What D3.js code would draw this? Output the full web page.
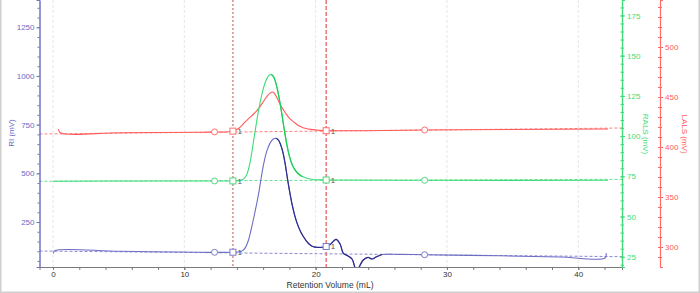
<!DOCTYPE html>
<html>
<head>
<meta charset="utf-8">
<script src="https://cdn.jsdelivr.net/npm/d3@7"></script>
<style>
  html, body { margin: 0; padding: 0; background: #fff; }
  svg { display: block; font-family: "Liberation Sans", Arial, sans-serif; }
</style>
</head>
<body>
<svg id="chart" width="700" height="293"></svg>
<script>
// ---------- DATA ----------
const xTicks = [0, 10, 20, 30, 40];
const riTicks = [250, 500, 750, 1000, 1250];
const ralsTicks = [25, 50, 75, 100, 125, 150, 175];
const lalsTicks = [300, 350, 400, 450, 500];

// RI trace [volume mL, mV]
const riPoints = [
  [0.04, 88], [0.11, 102], [5.1, 99.6], [11.2, 94.5], [13.63, 94.5], [14.24, 97.5],
  [14.43, 103], [14.62, 116], [14.85, 150], [15.08, 209], [15.36, 295], [15.64, 389],
  [15.86, 480], [16.07, 558], [16.3, 618], [16.53, 655], [16.75, 675], [16.96, 680],
  [17.12, 674], [17.29, 655], [17.48, 615], [17.67, 552], [17.86, 470], [18.05, 395],
  [18.24, 330], [18.43, 278], [18.62, 238], [18.81, 207], [19.04, 178], [19.27, 155],
  [19.5, 137], [19.73, 126], [19.96, 121], [20.18, 119.5], [20.72, 121.7], [21.1, 134.5],
  [21.55, 161], [21.86, 137], [22.11, 89], [22.47, 75.5], [22.77, 60], [23.0, 14],
  [23.15, -15], [23.3, 16], [23.63, 55], [23.99, 68], [24.3, 60], [24.6, 70],
  [25.06, 83], [26.43, 84], [28.31, 82], [34.04, 76.5], [38.6, 70], [42.04, 65], [42.12, 91]
];
// RALS trace [volume mL, mV]
const ralsPoints = [
  [0, 71.9], [7.39, 72.1], [13.63, 72.1], [14.2, 72.3], [14.4, 72.8], [14.6, 74.0],
  [14.8, 77.0], [15.0, 83.5], [15.2, 93], [15.4, 103.5], [15.6, 113.5], [15.8, 122],
  [16.0, 129], [16.2, 134.2], [16.4, 137.3], [16.6, 138.4], [16.8, 136.8], [17.0, 132],
  [17.2, 124.5], [17.4, 115], [17.6, 104.5], [17.8, 95], [18.0, 87.5], [18.2, 82.5],
  [18.4, 79.3], [18.6, 77.2], [18.8, 75.8], [19.0, 74.8], [19.4, 73.6], [19.8, 73.0],
  [20.8, 72.7], [28.31, 72.5], [42.27, 72.5]
];
// LALS trace [volume mL, mV]
const lalsPoints = [
  [0.4, 418], [0.59, 414], [5.1, 414.3], [11.2, 414.8], [13.6, 415.5], [13.8, 416.2],
  [14.0, 417.5], [14.2, 419.3], [14.4, 421.8], [14.6, 424.6], [14.8, 427.2], [15.0, 429.6],
  [15.2, 432], [15.4, 434.6], [15.6, 437.6], [15.8, 441.1], [16.0, 445], [16.2, 449],
  [16.4, 452.4], [16.6, 454.6], [16.7, 455], [16.8, 454.5], [17.0, 450.6], [17.2, 445.2],
  [17.4, 440.2], [17.6, 436], [17.8, 432.2], [18.0, 428.9], [18.2, 426.3], [18.4, 424.2],
  [18.6, 422.3], [18.8, 420.7], [19.0, 419.6], [19.2, 418.8], [19.6, 417.6], [20.2, 416.8],
  [20.8, 416.3], [28.31, 417], [42.27, 418]
];
// baselines [start, end]
const riBaseline = [[-1.03, 101], [43.33, 72]];
const ralsBaseline = [[-1.03, 71.9], [43.33, 73.1]];
const lalsBaseline = [[-1.03, 413], [43.33, 419]];
// limits / markers
const limitLines = [13.7, 20.8];
const circleMarks = [12.3, 28.3];
const squareMarks = [13.7, 20.8];

// ---------- LAYOUT ----------
const svg = d3.select("#chart");
const L = 39.5, R = 622, T = 0, B = 267;
const x = d3.scaleLinear().domain([-1.03, 43.33]).range([L, R]);
const yRI = d3.scaleLinear().domain([19, 1390]).range([B, T]);
const yRALS = d3.scaleLinear().domain([18.6, 184.6]).range([B, T]);
const yLALS = d3.scaleLinear().domain([280, 547]).range([B, T]);

const blue = "#6d6dc4", blueDark = "#2e2e8e", green = "#3ddc78", red = "#ff5a5a";
const smooth = d3.curveCatmullRom.alpha(0.5);
const fmt = d3.format("d");

// frame
svg.append("path").attr("d", "M0.75,0 V292.25 H699.25 V0")
  .attr("fill", "none").attr("stroke", "#cfcfcf").attr("stroke-width", 1.5);

svg.append("defs").append("clipPath").attr("id", "clip")
  .append("rect").attr("x", L).attr("y", T).attr("width", R - L).attr("height", B - T);

// grid
svg.append("g").selectAll("line").data(xTicks).join("line")
  .attr("x1", d => x(d)).attr("x2", d => x(d)).attr("y1", T).attr("y2", B)
  .attr("stroke", "#e6e6e6").attr("stroke-width", 1).attr("stroke-dasharray", "3,2");

const plot = svg.append("g").attr("clip-path", "url(#clip)");

// limit lines
plot.append("line").attr("x1", x(limitLines[0])).attr("x2", x(limitLines[0]))
  .attr("y1", T).attr("y2", B).attr("stroke", "#b4584a").attr("stroke-width", 1)
  .attr("stroke-dasharray", "2,2");
plot.append("line").attr("x1", x(limitLines[1])).attr("x2", x(limitLines[1]))
  .attr("y1", T).attr("y2", B).attr("stroke", "#e03030").attr("stroke-width", 1)
  .attr("stroke-dasharray", "4,2");

function interp(points, v) {
  for (let i = 0; i < points.length - 1; i++) {
    const a = points[i], b = points[i + 1];
    if (v >= a[0] && v <= b[0]) return a[1] + (b[1] - a[1]) * (v - a[0]) / (b[0] - a[0]);
  }
  return points[points.length - 1][1];
}

function drawTrace(points, base, y, color, lightColor) {
  plot.append("path").datum(base)
    .attr("d", d3.line().x(d => x(d[0])).y(d => y(d[1])))
    .attr("fill", "none").attr("stroke", lightColor).attr("stroke-width", 1)
    .attr("stroke-dasharray", "3,2");
  plot.append("path").datum(points)
    .attr("d", d3.line().x(d => x(d[0])).y(d => y(d[1])).curve(smooth))
    .attr("fill", "none").attr("stroke", color).attr("stroke-width", 1.1);
}
function drawMarks(points, y, color) {
  const g = plot.append("g");
  g.selectAll("circle").data(circleMarks).join("circle")
    .attr("cx", d => x(d)).attr("cy", d => y(interp(points, d))).attr("r", 3)
    .attr("fill", "#fff").attr("stroke", color).attr("stroke-width", 1);
  g.selectAll("rect").data(squareMarks).join("rect")
    .attr("x", d => x(d) - 3).attr("y", d => y(interp(points, d)) - 3)
    .attr("width", 6).attr("height", 6)
    .attr("fill", "#fff").attr("stroke", color).attr("stroke-width", 1);
  g.selectAll("text").data(squareMarks).join("text")
    .attr("x", d => x(d) + 4.5).attr("y", d => y(interp(points, d)) + 3)
    .attr("font-size", 8).attr("fill", "#555").text("1");
}

drawTrace(lalsPoints, lalsBaseline, yLALS, red, "#ff8080");
drawTrace(ralsPoints, ralsBaseline, yRALS, green, "#66e094");
drawTrace(riPoints, riBaseline, yRI, blue, "#8a8ad0");
// darker overlay on descending flanks
plot.append("path").datum(riPoints.filter(d => d[0] >= 16.96 && d[0] <= 25.1))
  .attr("d", d3.line().x(d => x(d[0])).y(d => yRI(d[1])).curve(smooth))
  .attr("fill", "none").attr("stroke", blueDark).attr("stroke-width", 1.2);
plot.append("path").datum(ralsPoints.filter(d => d[0] >= 16.6 && d[0] <= 19.0))
  .attr("d", d3.line().x(d => x(d[0])).y(d => yRALS(d[1])).curve(smooth))
  .attr("fill", "none").attr("stroke", "#1fcc58").attr("stroke-width", 1.2);

drawMarks(lalsPoints, yLALS, "#ff7070");
drawMarks(ralsPoints, yRALS, "#50d884");
drawMarks(riPoints, yRI, "#7a7acc");

// ---------- AXES ----------
const tickFont = 8;
const ff = "Liberation Sans, Arial, sans-serif";
// x axis
const gx = svg.append("g").attr("transform", `translate(0,${B})`);
gx.call(d3.axisBottom(x).tickValues(d3.range(0, 43, 2)).tickSizeInner(3).tickSizeOuter(0).tickFormat(""));
gx.call(g => g.append("g").call(d3.axisBottom(x).tickValues(xTicks).tickSize(3).tickPadding(1).tickFormat(fmt)));
gx.selectAll("path").attr("stroke", "#7a7a7a");
gx.selectAll("line").attr("stroke", "#7a7a7a");
gx.selectAll("text").attr("font-size", tickFont).attr("fill", "#333").attr("font-family", ff);
gx.select("g").select(".domain").remove();
svg.append("text").attr("x", 330).attr("y", 288).attr("text-anchor", "middle")
  .attr("font-size", 8.5).attr("fill", "#333").text("Retention Volume (mL)");

// RI axis (left)
const gl = svg.append("g").attr("transform", `translate(${L},0)`);
gl.call(d3.axisLeft(yRI).tickValues(d3.range(50, 1390, 50)).tickSizeInner(2).tickSizeOuter(0).tickFormat(""));
gl.append("g").call(d3.axisLeft(yRI).tickValues(riTicks).tickSize(3).tickPadding(2).tickFormat(fmt));
gl.selectAll("path").attr("stroke", "#7272c4");
gl.selectAll("line").attr("stroke", "#7272c4");
gl.selectAll("text").attr("font-size", tickFont).attr("fill", "#6a6ac4").attr("font-family", ff);
gl.select("g").select(".domain").remove();
svg.append("text").attr("transform", "translate(14,133) rotate(-90)").attr("text-anchor", "middle")
  .attr("font-size", 8).attr("fill", "#6a6ac4").text("RI (mV)");

// RALS axis (right, green)
const gg = svg.append("g").attr("transform", `translate(${R},0)`);
gg.call(d3.axisRight(yRALS).tickValues(d3.range(20, 185, 5)).tickSizeInner(2).tickSizeOuter(0).tickFormat(""));
gg.append("g").call(d3.axisRight(yRALS).tickValues(ralsTicks).tickSize(3).tickPadding(2).tickFormat(fmt));
gg.selectAll("path").attr("stroke", "#3ddc78").attr("stroke-width", 1.2);
gg.selectAll("line").attr("stroke", "#3ddc78").attr("x1", -1.5);
gg.selectAll("text").attr("font-size", tickFont).attr("fill", "#3ddc78").attr("font-family", ff);
gg.select("g").select(".domain").remove();
svg.append("text").attr("transform", "translate(643,134) rotate(90)").attr("text-anchor", "middle")
  .attr("font-size", 8).attr("fill", "#3ddc78").text("RALS (mV)");

// LALS axis (right, red)
const gr = svg.append("g").attr("transform", "translate(660,0)");
gr.call(d3.axisRight(yLALS).tickValues(d3.range(290, 547, 10)).tickSizeInner(2).tickSizeOuter(0).tickFormat(""));
gr.append("g").call(d3.axisRight(yLALS).tickValues(lalsTicks).tickSize(3).tickPadding(2).tickFormat(fmt));
gr.selectAll("path").attr("stroke", "#ff6a6a").attr("stroke-width", 1.1);
gr.selectAll("line").attr("stroke", "#ff6a6a").attr("x1", -2);
gr.selectAll("text").attr("font-size", tickFont).attr("fill", "#ff5a5a").attr("font-family", ff);
gr.select("g").select(".domain").remove();
svg.append("text").attr("transform", "translate(682,134) rotate(90)").attr("text-anchor", "middle")
  .attr("font-size", 8).attr("fill", "#ff5a5a").text("LALS (mV)");
</script>
</body>
</html>
